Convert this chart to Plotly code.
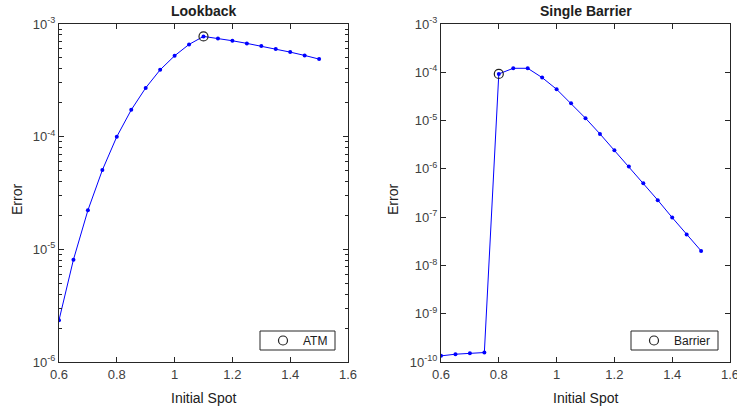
import plotly.graph_objects as go

# ---- data ----
spot = [0.6, 0.65, 0.7, 0.75, 0.8, 0.85, 0.9, 0.95, 1.0, 1.05,
        1.1, 1.15, 1.2, 1.25, 1.3, 1.35, 1.4, 1.45, 1.5]
lookback_err = [2.35e-6, 8.1e-6, 2.22e-5, 5.05e-5, 1.0e-4, 1.73e-4, 2.71e-4, 3.92e-4,
                5.22e-4, 6.59e-4, 7.76e-4, 7.45e-4, 7.1e-4, 6.73e-4, 6.37e-4, 5.99e-4,
                5.63e-4, 5.26e-4, 4.88e-4]
barrier_err = [1.34e-10, 1.45e-10, 1.51e-10, 1.57e-10, 9.25e-5, 1.21e-4, 1.21e-4, 7.76e-5,
               4.45e-5, 2.28e-5, 1.12e-5, 5.3e-6, 2.43e-6, 1.12e-6, 5.05e-7, 2.25e-7,
               9.8e-8, 4.35e-8, 2.0e-8]
atm_spot = 1.1
barrier_spot = 0.8
x_ticks = [0.6, 0.8, 1.0, 1.2, 1.4, 1.6]
x_ticktext = ["0.6", "0.8", "1", "1.2", "1.4", "1.6"]
left_decades = [-6, -5, -4, -3]
right_decades = [-10, -9, -8, -7, -6, -5, -4, -3]

atm_idx = spot.index(atm_spot)
bar_idx = spot.index(barrier_spot)

W, H = 737, 412
AX = "#262626"
FONT = "Liberation Sans, Arial, Helvetica, sans-serif"

fig = go.Figure()

line_style = dict(color="rgb(0,0,255)", width=1)
dot_style = dict(color="rgb(0,0,255)", size=4, symbol="circle")

fig.add_trace(go.Scatter(x=spot, y=lookback_err, mode="lines+markers", line=line_style,
                         marker=dot_style, showlegend=False, xaxis="x", yaxis="y"))
fig.add_trace(go.Scatter(x=[spot[atm_idx]], y=[lookback_err[atm_idx]], mode="markers",
                         marker=dict(symbol="circle-open", size=9, color="#222222",
                                     line=dict(width=1.2, color="#222222")),
                         name="ATM", showlegend=True, legend="legend", xaxis="x", yaxis="y"))

fig.add_trace(go.Scatter(x=spot, y=barrier_err, mode="lines+markers", line=line_style,
                         marker=dot_style, showlegend=False, xaxis="x2", yaxis="y2"))
fig.add_trace(go.Scatter(x=[spot[bar_idx]], y=[barrier_err[bar_idx]], mode="markers",
                         marker=dict(symbol="circle-open", size=9, color="#222222",
                                     line=dict(width=1.2, color="#222222")),
                         name="Barrier", showlegend=True, legend="legend2", xaxis="x2", yaxis="y2"))


def px_x(p):
    return p / W


def px_y(p):
    return 1 - p / H


ydom = [px_y(362), px_y(24)]

common_x = dict(type="linear", range=[0.6, 1.6], tickvals=x_ticks, ticktext=x_ticktext,
                showline=True, linecolor=AX, linewidth=1, mirror="ticks", ticks="inside",
                ticklen=5, tickcolor=AX, showgrid=False, zeroline=False, automargin=False,
                ticklabeloverflow="allow",
                tickfont=dict(size=13, color="#404040", family=FONT))


def minor_vals(decs):
    out = []
    for d in decs[:-1]:
        for m in range(2, 10):
            out.append(m * 10 ** d)
    return out


def ylog(decs, minor):
    d = dict(type="log", range=[decs[0], decs[-1]],
             tickvals=[10 ** d for d in decs],
             ticktext=["10<sup>%d</sup>" % d for d in decs],
             showline=True, linecolor=AX, linewidth=1, mirror="ticks", ticks="inside",
             ticklen=5, tickcolor=AX, showgrid=False, zeroline=False, automargin=False,
             ticklabeloverflow="allow",
             tickfont=dict(size=13, color="#404040", family=FONT))
    if minor:
        d["minor"] = dict(tickvals=minor_vals(decs), ticks="inside", ticklen=3,
                          tickcolor=AX, showgrid=False)
    return d


leg_common = dict(xanchor="left", yanchor="middle", bordercolor="rgba(0,0,0,0)",
                  borderwidth=0, bgcolor="rgba(0,0,0,0)",
                  font=dict(size=12, color="#202020", family=FONT),
                  itemwidth=30, tracegroupgap=0)

fig.update_layout(
    width=W, height=H,
    margin=dict(l=0, r=0, t=0, b=0, autoexpand=False),
    paper_bgcolor="white", plot_bgcolor="white",
    font=dict(family=FONT, color=AX),
    xaxis=dict(common_x, domain=[px_x(59), px_x(348)], anchor="y"),
    yaxis=dict(ylog(left_decades, True), domain=ydom, anchor="x"),
    xaxis2=dict(common_x, domain=[px_x(441), px_x(730)], anchor="y2"),
    yaxis2=dict(ylog(right_decades, False), domain=ydom, anchor="x2"),
    legend=dict(leg_common, x=px_x(263), y=px_y(340.5)),
    legend2=dict(leg_common, x=px_x(634), y=px_y(340.5)),
    showlegend=True,
)

# legend frames (MATLAB-style compact boxes)
for x0, x1 in ((260, 335), (631, 718)):
    fig.add_shape(type="rect", xref="paper", yref="paper",
                  x0=px_x(x0), x1=px_x(x1), y0=px_y(350), y1=px_y(331),
                  line=dict(color=AX, width=1), fillcolor="rgba(0,0,0,0)", layer="above")

ann = [
    dict(text="<b>Lookback</b>", x=px_x(203.5), y=px_y(11), size=14),
    dict(text="<b>Single Barrier</b>", x=px_x(585.5), y=px_y(11), size=14),
    dict(text="Initial Spot", x=px_x(203.5), y=px_y(398), size=14),
    dict(text="Initial Spot", x=px_x(585.5), y=px_y(398), size=14),
]
for a in ann:
    fig.add_annotation(text=a["text"], x=a["x"], y=a["y"], xref="paper", yref="paper",
                       xanchor="center", yanchor="middle", showarrow=False,
                       font=dict(size=a["size"], color="#202020", family=FONT))
for xc in (17, 393):
    fig.add_annotation(text="Error", x=px_x(xc), y=px_y(200), xref="paper", yref="paper",
                       xanchor="center", yanchor="middle", showarrow=False, textangle=-90,
                       font=dict(size=14, color="#202020", family=FONT))

fig.write_html("out.html")
